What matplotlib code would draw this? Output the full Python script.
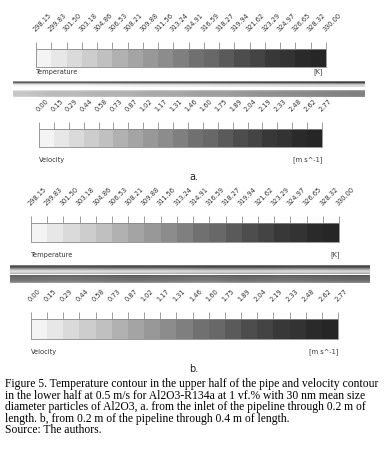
import numpy as np
import matplotlib
matplotlib.use("Agg")
import matplotlib.pyplot as plt
from matplotlib.colors import ListedColormap, BoundaryNorm
from matplotlib.colorbar import ColorbarBase

W, H = 386, 451

temp_levels = [298.15, 299.83, 301.50, 303.18, 304.86, 306.53, 308.21, 309.88, 311.56, 313.24,
               314.91, 316.59, 318.27, 319.94, 321.62, 323.29, 324.97, 326.65, 328.32, 330.00]
vel_levels = [0.00, 0.15, 0.29, 0.44, 0.58, 0.73, 0.87, 1.02, 1.17, 1.31,
              1.46, 1.60, 1.75, 1.89, 2.04, 2.19, 2.33, 2.48, 2.62, 2.77]
grays = [244, 231, 218, 205, 192, 177, 164, 152, 140, 127,
         112, 104, 90, 77, 68, 56, 51, 42, 38]

# pipe shading (gray level), upper half = temperature, lower half = velocity
pipe_a_temp_rows = [150, 95, 170, 225, 245, 250]
pipe_a_temp_cols = [0, 0, -5, -10, -15, -20, -25, -30]
pipe_a_vel_rows = [225, 205, 198, 198, 198, 200, 210]
pipe_a_vel_cols = [0, -12, -12, -20, -20, -30, -30, -40, -40, -50, -55, -60, -65, -70]
pipe_b_temp_rows = [120, 70, 110, 160, 200, 225, 215, 180]
pipe_b_temp_cols = [0, 0, -5, -5, -10, -10, -5, -10]
pipe_b_vel_rows = [95, 105, 110, 112, 115, 125, 150]
pipe_b_vel_cols = [0, 5, 0, -5, 0, 5, -5, 0, -5, -10]

cmap = ListedColormap([(g / 255, g / 255, g / 255) for g in grays])

fig = plt.figure(figsize=(W / 100, H / 100), dpi=100)


def px_axes(x0, y0, x1, y1):
    return fig.add_axes([x0 / W, 1 - y1 / H, (x1 - x0) / W, (y1 - y0) / H])


def txt(x, y, s, **kw):
    fig.text(x / W, 1 - y / H, s, va="center", **kw)


def colorbar(box, levels):
    cax = px_axes(*box)
    cb = ColorbarBase(cax, cmap=cmap, norm=BoundaryNorm(levels, len(grays)),
                      orientation="horizontal", ticklocation="top")
    cb.set_ticks(levels)
    cb.set_ticklabels(["%.2f" % v for v in levels])
    cb.outline.set_edgecolor("#888888")
    cb.outline.set_linewidth(0.6)
    cax.tick_params(axis="x", length=5, width=0.5, color="#777777", pad=7,
                    labelsize=4.8, labelcolor="#333333")
    cax.minorticks_off()
    for lab in cax.get_xticklabels():
        lab.set_rotation(45)
        lab.set_ha("left")
        lab.set_va("bottom")
        lab.set_rotation_mode("anchor")


def pipe(box, rows, cols):
    ax = px_axes(*box)
    img = np.clip(np.array(rows, float)[:, None] + np.array(cols, float)[None, :], 0, 255)
    ax.imshow(img, cmap="gray", vmin=0, vmax=255, aspect="auto", interpolation="bilinear")
    ax.set_axis_off()


small = dict(fontsize=4.8, color="#333333")

# panel a
colorbar((36, 49, 326, 67), temp_levels)
txt(36, 72, "Temperature", **small)
txt(323, 72, "[K]", ha="right", **small)
pipe((13, 81, 365, 87), pipe_a_temp_rows, pipe_a_temp_cols)
pipe((13, 90, 365, 97), pipe_a_vel_rows, pipe_a_vel_cols)
colorbar((39, 129, 322, 147), vel_levels)
txt(39, 160, "Velocity", **small)
txt(322, 160, "[m s^-1]", ha="right", **small)
txt(194, 177, "a.", ha="center", fontsize=7, color="#222222")

# panel b
colorbar((31, 223, 339, 242), temp_levels)
txt(31, 255, "Temperature", **small)
txt(340, 255, "[K]", ha="right", **small)
pipe((10, 265, 370, 274), pipe_b_temp_rows, pipe_b_temp_cols)
pipe((10, 275, 370, 283), pipe_b_vel_rows, pipe_b_vel_cols)
colorbar((31, 319, 338, 339), vel_levels)
txt(31, 352, "Velocity", **small)
txt(338, 352, "[m s^-1]", ha="right", **small)
txt(194, 369, "b.", ha="center", fontsize=7, color="#222222")

caption = [
    "Figure 5. Temperature contour in the upper half of the pipe and velocity contour",
    "in the lower half at 0.5 m/s for Al2O3-R134a at 1 vf.% with 30 nm mean size",
    "diameter particles of Al2O3, a. from the inlet of the pipeline through 0.2 m of",
    "length. b, from 0.2 m of the pipeline through 0.4 m of length.",
    "Source: The authors.",
]
for i, line in enumerate(caption):
    txt(5, 384 + i * 11.6, line, fontsize=8.4, family="Liberation Serif", color="black")

fig.savefig("out.png", dpi=100)
